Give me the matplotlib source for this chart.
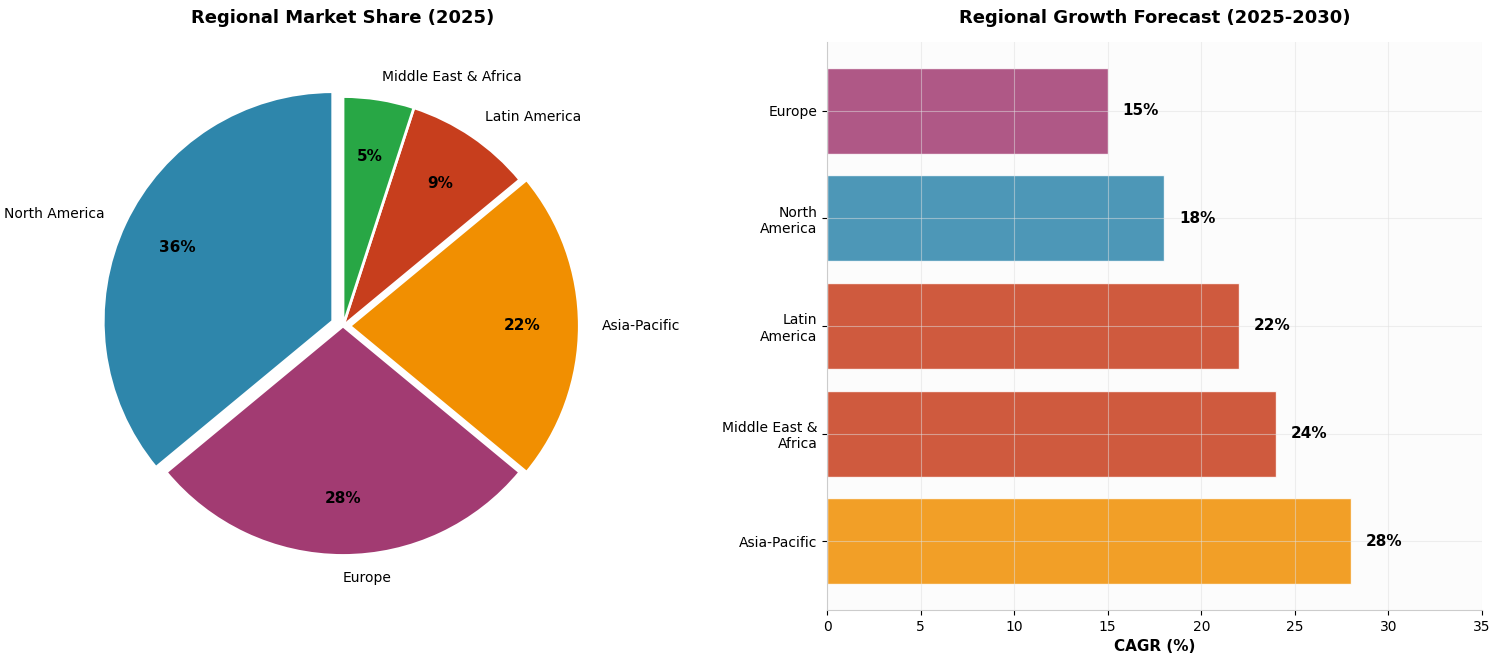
import numpy as np
import matplotlib
matplotlib.use("Agg")
import matplotlib.pyplot as plt

# Pie data (market share 2025)
share_regions = ["North America", "Europe", "Asia-Pacific", "Latin America", "Middle East & Africa"]
share_values = [36, 28, 22, 9, 5]
share_colors = ["#2E86AB", "#A23B72", "#F18F01", "#C73E1D", "#28A745"]
share_explode = [0.05, 0, 0.03, 0, 0]

# Bar data (CAGR 2025-2030)
growth_regions = ["Asia-Pacific", "Middle East &\nAfrica", "Latin\nAmerica", "North\nAmerica", "Europe"]
growth_values = [28, 24, 22, 18, 15]
growth_colors = ["#F18F01", "#C73E1D", "#C73E1D", "#2E86AB", "#A23B72"]

fig = plt.figure(figsize=(15, 6.63), dpi=100)
ax1 = fig.add_axes([(343 - 284) / 1500, 53 / 663, 568 / 1500, 568 / 663])
ax2 = fig.add_axes([827 / 1500, 53 / 663, 655 / 1500, 568 / 663])

wedges, texts, autotexts = ax1.pie(
    share_values, labels=share_regions, colors=share_colors, explode=share_explode,
    autopct="%1.0f%%", startangle=90, pctdistance=0.75, labeldistance=1.1, radius=1.01,
    wedgeprops=dict(edgecolor="white", linewidth=2))
for t in texts:
    t.set_fontsize(10)
for t in autotexts:
    t.set_fontsize(11)
    t.set_fontweight("bold")
ax1.set_xlim(-1.25, 1.25)
ax1.set_ylim(-1.25, 1.25)
ax1.set_title("Regional Market Share (2025)", fontsize=13, fontweight="bold", pad=14)

ypos = np.arange(len(growth_regions))
ax2.set_facecolor("#fcfcfc")
bars = ax2.barh(ypos, growth_values, color=growth_colors, alpha=0.85, edgecolor="white", linewidth=1)
ax2.set_yticks(ypos)
ax2.set_yticklabels(growth_regions, fontsize=10)
ax2.set_xlim(0, 35)
ax2.set_xlabel("CAGR (%)", fontsize=11, fontweight="bold")
ax2.set_title("Regional Growth Forecast (2025-2030)", fontsize=13, fontweight="bold", pad=14)
ax2.grid(True, color="#e0e0e0", alpha=0.5)
for spine in ["top", "right"]:
    ax2.spines[spine].set_visible(False)
for spine in ["left", "bottom"]:
    ax2.spines[spine].set_color("#cccccc")
ax2.tick_params(axis="x", labelsize=10)

for bar, val in zip(bars, growth_values):
    ax2.text(val + 0.8, bar.get_y() + bar.get_height() / 2, f"{val}%",
             va="center", ha="left", fontsize=11, fontweight="bold")

plt.savefig("out.png", dpi=100)
